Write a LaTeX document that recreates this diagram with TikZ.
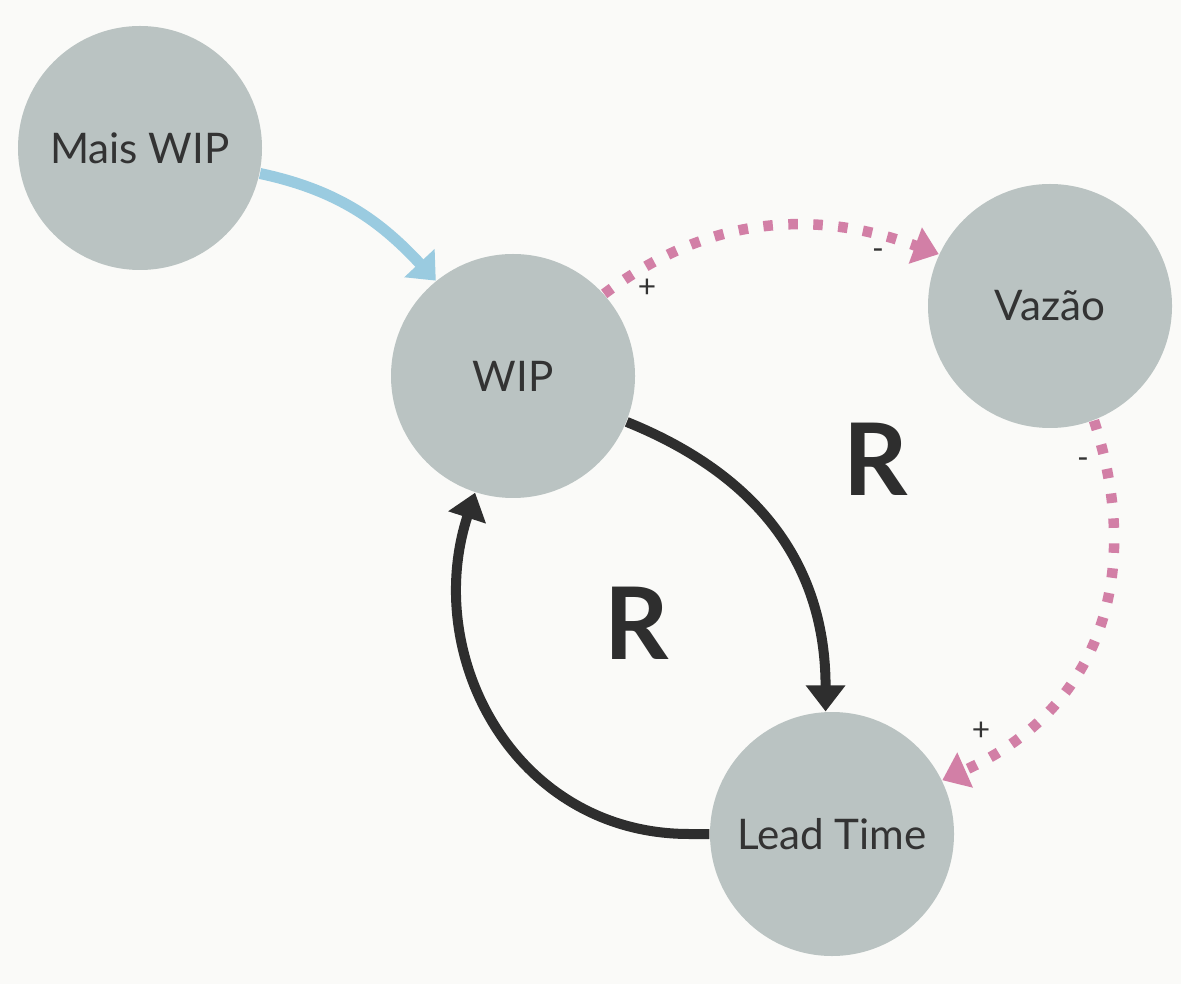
\documentclass[tikz,border=0pt]{standalone}
\usepackage{fontspec}
\setmainfont{Lato}
\usetikzlibrary{arrows.meta}
\usetikzlibrary{positioning}

\definecolor{bgcol}{HTML}{FAFAF8}
\definecolor{nodecol}{HTML}{BAC3C2}
\definecolor{textcol}{HTML}{333333}
\definecolor{linkpink}{HTML}{D27FA6}
\definecolor{linkblue}{HTML}{9ACBE0}
\definecolor{linkdark}{HTML}{2E2E2E}

\tikzset{
  varnode/.style={circle,fill=nodecol,draw=none,minimum size=2.44cm,inner sep=0pt,text=textcol,font=\fontsize{12}{14}\selectfont},
  darklink/.style={draw=linkdark,line width=0.1cm,-{Triangle[length=0.26cm,width=0.38cm]}},
  pinklink/.style={draw=linkpink,line width=0.105cm,dash pattern=on 0.095cm off 0.155cm,-{Triangle[length=0.25cm,width=0.37cm]}},
  bluelink/.style={draw=linkblue,line width=0.11cm,-{Triangle[length=0.24cm,width=0.40cm]}},
  signlabel/.style={text=textcol,font=\fontsize{9}{10}\selectfont,inner sep=0pt},
  looplabel/.style={text=linkdark,font=\fontsize{28.5}{32}\selectfont\bfseries,inner sep=0pt}
}

\begin{document}
\begin{tikzpicture}
\fill[bgcol] (0,0) rectangle (11.81,9.84);
\useasboundingbox (0,0) rectangle (11.81,9.84);

\node[varnode] (mais) at (1.40,8.36) {Mais WIP};
\node[varnode] (wip) at (5.13,6.08) {WIP};
\node[varnode] (vazao) at (10.50,6.78) {Vazão};
\node[varnode] (lead) at (8.32,1.50) {Lead Time};

\draw[bluelink] (mais.-12) to[out=-12,in=133] (wip.129);
\draw[pinklink] (wip.42) to[out=37,in=160] (vazao.155);
\draw[pinklink] (vazao.-69) to[out=-72,in=24,looseness=1.1] (lead.26);
\draw[darklink] (wip.-22) to[out=-22,in=90,looseness=1.05] (lead.93);
\draw[darklink] (lead.west) -- ++(-0.2,0) to[out=180,in=252,looseness=1.1] (wip.252);

\node[signlabel] (plusA) at (6.47,6.96) {+};
\node[signlabel] (minusA) at (8.78,7.30) {-};
\node[signlabel] (minusB) at (10.83,5.21) {-};
\node[signlabel] (plusB) at (9.81,2.53) {+};

\node[looplabel] (loopA) at (6.37,3.61) {R};
\node[looplabel] (loopB) at (8.76,5.25) {R};
\end{tikzpicture}
\end{document}
